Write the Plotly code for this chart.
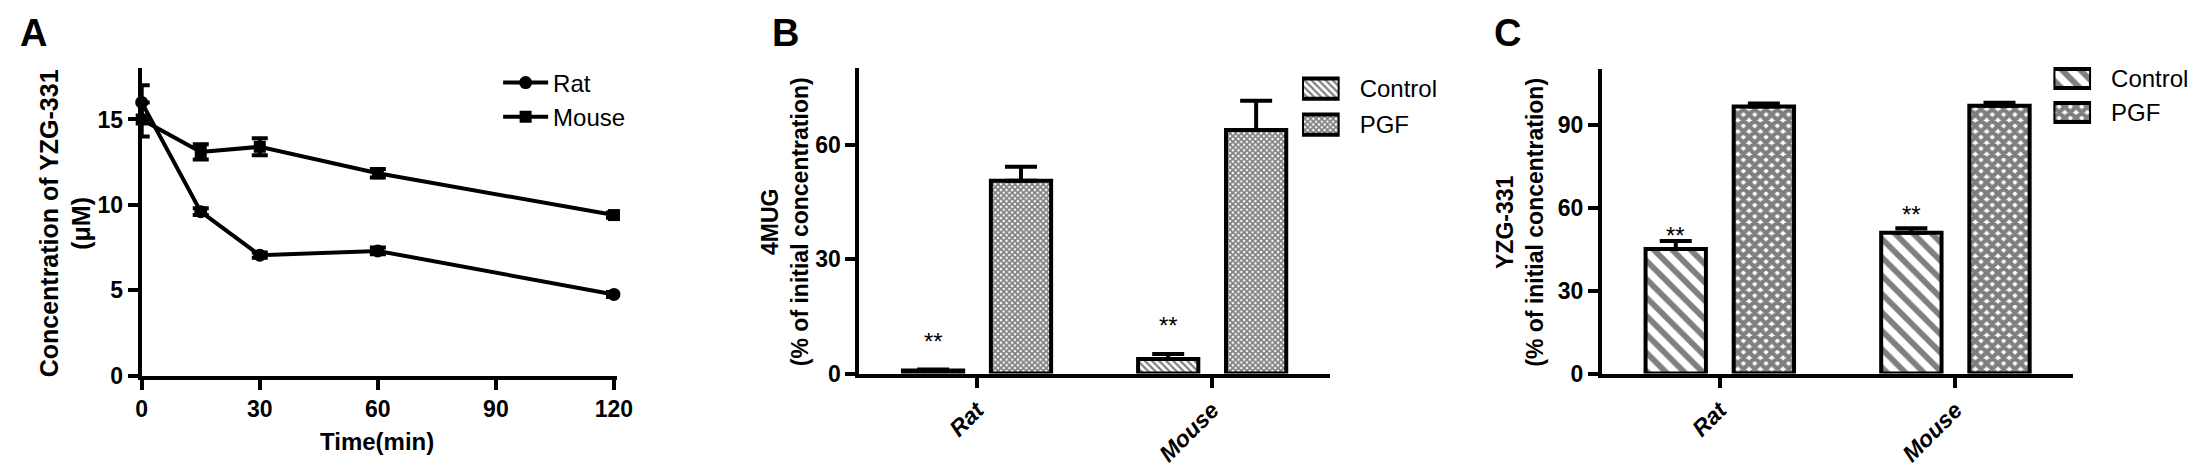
import plotly.graph_objects as go

W, H = 2204, 469
FONT = "Liberation Sans, Arial, sans-serif"

# ---------------- data ----------------
# Panel A
time_min = [0, 15, 30, 60, 120]
rat_conc = [16.0, 9.6, 7.05, 7.3, 4.75]
rat_err = [1.0, 0.2, 0.15, 0.2, 0.15]
mouse_conc = [15.0, 13.1, 13.4, 11.85, 9.4]
mouse_err = [1.0, 0.45, 0.5, 0.25, 0.15]
a_xticks = [0, 30, 60, 90, 120]
a_yticks = [0, 5, 10, 15]

# Panels B and C
species = ["Rat", "Mouse"]
groups = ["Control", "PGF"]

b_control = [0.8, 3.8]
b_control_err = [0.3, 1.3]
b_pgf = [50.5, 63.8]
b_pgf_err = [3.7, 7.7]
b_yticks = [0, 30, 60]
b_sig_y = [10.0, 14.3]

c_control = [45.0, 50.9]
c_control_err = [2.9, 1.6]
c_pgf = [96.5, 96.8]
c_pgf_err = [1.1, 1.1]
c_yticks = [0, 30, 60, 90]
c_sig_y = [52.2, 59.6]

swatch_len = [1, 1]


def fx(px):
    return px / W


def fy(py):
    return 1 - py / H


fig = go.Figure()

# ---------------- Panel A ----------------
fig.add_trace(go.Scatter(
    x=time_min, y=rat_conc, name="Rat", mode="lines+markers",
    line=dict(color="black", width=4),
    marker=dict(symbol="circle", size=13, color="black"),
    error_y=dict(type="data", array=rat_err, thickness=4, width=8, color="black"),
    cliponaxis=False, xaxis="x", yaxis="y", legend="legend"))
fig.add_trace(go.Scatter(
    x=time_min, y=mouse_conc, name="Mouse", mode="lines+markers",
    line=dict(color="black", width=4),
    marker=dict(symbol="square", size=12, color="black"),
    error_y=dict(type="data", array=mouse_err, thickness=4, width=8, color="black"),
    cliponaxis=False, xaxis="x", yaxis="y", legend="legend"))

# ---------------- bar styles ----------------
b_patterns = {
    "Control": dict(shape="\\", size=5, solidity=0.45),
    "PGF": dict(shape="x", size=4, solidity=0.7),
}
c_patterns = {
    "Control": dict(shape="\\", size=13, solidity=0.45),
    "PGF": dict(shape="x", size=8, solidity=0.78),
}


def add_bars(vals, errs, group, pat, xa, ya):
    fig.add_trace(go.Bar(
        x=species, y=vals, name=group, showlegend=False,
        marker=dict(color="white", line=dict(color="black", width=4),
                    pattern=dict(pat, fgcolor="black", bgcolor="white")),
        error_y=dict(type="data", symmetric=False, array=errs, arrayminus=[0] * len(errs),
                     thickness=4, width=16, color="black"),
        xaxis=xa, yaxis=ya))


add_bars(b_control, b_control_err, "Control", b_patterns["Control"], "x2", "y2")
add_bars(b_pgf, b_pgf_err, "PGF", b_patterns["PGF"], "x2", "y2")
add_bars(c_control, c_control_err, "Control", c_patterns["Control"], "x3", "y3")
add_bars(c_pgf, c_pgf_err, "PGF", c_patterns["PGF"], "x3", "y3")


# legend swatches for B and C
def add_swatch(pats, xa, ya):
    fig.add_trace(go.Bar(
        x=swatch_len, y=groups, orientation="h", base=0, width=0.56, showlegend=False,
        marker=dict(color="white", line=dict(color="black", width=4),
                    pattern=dict(shape=[pats[g]["shape"] for g in groups],
                                 size=[pats[g]["size"] for g in groups],
                                 solidity=[pats[g]["solidity"] for g in groups],
                                 fgcolor="black", bgcolor="white")),
        cliponaxis=False, hoverinfo="skip", xaxis=xa, yaxis=ya))


add_swatch(b_patterns, "x4", "y4")
add_swatch(c_patterns, "x5", "y5")

# ---------------- axes ----------------
axis_common = dict(showline=True, linewidth=4, linecolor="black", showgrid=False,
                   zeroline=False, ticks="outside", ticklen=10, tickwidth=4,
                   tickcolor="black",
                   tickfont=dict(family=FONT, size=23, color="black", weight="bold"))

cat_font = dict(family=FONT, size=23, color="black", weight="bold", style="italic")

legend_axis = dict(side="right", categoryorder="array", categoryarray=groups,
                   autorange="reversed", showline=False, showgrid=False,
                   zeroline=False, ticks="", ticklabelstandoff=19,
                   tickfont=dict(family=FONT, size=24, color="black"))

layout = dict(
    width=W, height=H, margin=dict(l=0, r=0, t=0, b=0),
    paper_bgcolor="white", plot_bgcolor="white",
    barmode="group", bargap=0.252, bargroupgap=0.315,
    font=dict(family=FONT, color="black"),
    xaxis=dict(axis_common, domain=[fx(129), fx(609)], range=[0, 120.75],
               tickvals=a_xticks, anchor="y"),
    yaxis=dict(axis_common, domain=[fy(378), fy(62)], range=[0, 18],
               tickvals=a_yticks, anchor="x"),
    xaxis2=dict(axis_common, domain=[fx(854), fx(1329)], type="category",
                range=[-0.5, 1.5], tickangle=-45, tickfont=cat_font, anchor="y2"),
    yaxis2=dict(axis_common, domain=[fy(376), fy(62)], range=[0, 80],
                tickvals=b_yticks, anchor="x2"),
    xaxis3=dict(axis_common, domain=[fx(1604), fx(2080)], type="category",
                range=[-0.5, 1.5], tickangle=-45, tickfont=cat_font, anchor="y3"),
    yaxis3=dict(axis_common, domain=[fy(376), fy(63)], range=[0, 110],
                tickvals=c_yticks, anchor="x3"),
    xaxis4=dict(domain=[fx(1301), fx(1339)], range=[0, 1], visible=False, anchor="y4"),
    yaxis4=dict(legend_axis, domain=[fy(138.5), fy(64.5)], anchor="x4"),
    xaxis5=dict(domain=[fx(2060), fx(2098)], range=[0, 1], visible=False, anchor="y5"),
    yaxis5=dict(legend_axis, domain=[fy(125), fy(55)], anchor="x5"),
    legend=dict(x=fx(489), y=fy(54), xanchor="left", yanchor="top",
                bgcolor="rgba(0,0,0,0)", itemwidth=45,
                font=dict(family=FONT, size=24, color="black")),
)
fig.update_layout(**layout)

# ---------------- annotations ----------------
ann = []


def text(x, y, s, size, bold=True, angle=0, xanchor="center", yanchor="middle", **kw):
    ann.append(dict(x=x, y=y, xref="paper", yref="paper", text=s, showarrow=False,
                    textangle=angle, xanchor=xanchor, yanchor=yanchor,
                    font=dict(family=FONT, size=size, color="black",
                              weight="bold" if bold else "normal"), **kw))


# panel letters
text(fx(4), fy(26), "A", 38, xanchor="left")
text(fx(764), fy(26), "B", 38, xanchor="left")
text(fx(1493), fy(26), "C", 38, xanchor="left")

# axis titles
text(fx(52), fy(221), "Concentration of YZG-331<br>(μM)", 25, angle=-90)
text(fx(367), fy(446), "Time(min)", 24)
text(fx(779), fy(220), "4MUG<br>(% of initial concentration)", 23, angle=-90)
text(fx(1521), fy(220), "YZG-331<br>(% of initial concentration)", 23, angle=-90)

# significance marks above Control bars
for sp, yv in zip(species, b_sig_y):
    ann.append(dict(x=sp, y=yv, xref="x2", yref="y2", text="**", showarrow=False,
                    xshift=-44, yshift=-6,
                    font=dict(family=FONT, size=24, color="black")))
for sp, yv in zip(species, c_sig_y):
    ann.append(dict(x=sp, y=yv, xref="x3", yref="y3", text="**", showarrow=False,
                    xshift=-44, yshift=-6,
                    font=dict(family=FONT, size=24, color="black")))

fig.update_layout(annotations=ann)

fig.write_html("out.html")
